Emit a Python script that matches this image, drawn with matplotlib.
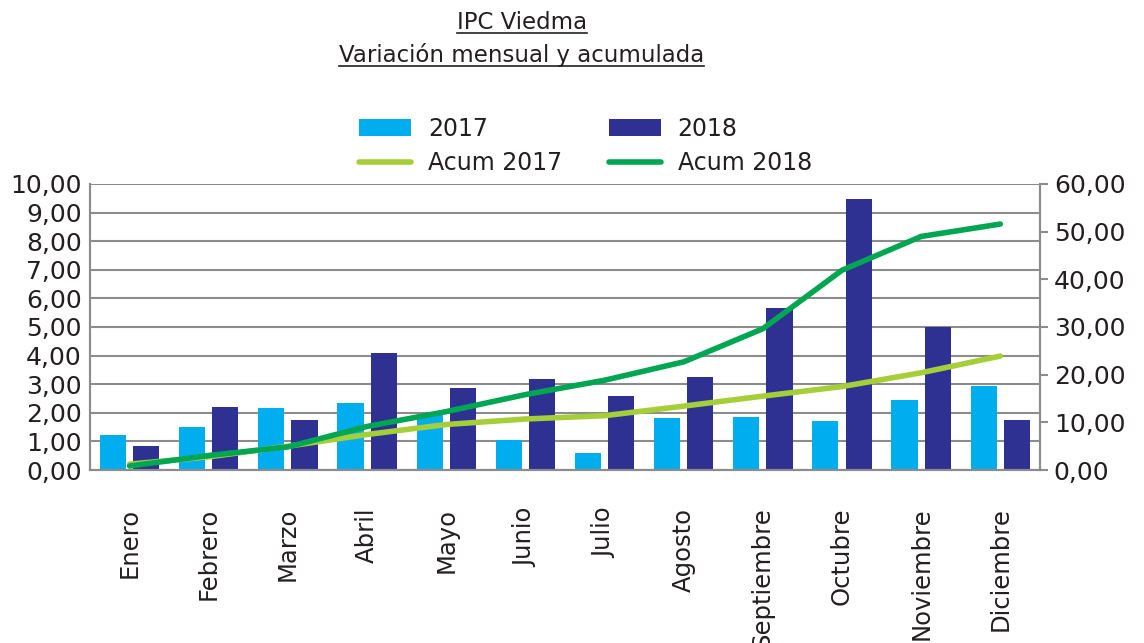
#IPC Viedma - variacion mensual y acumulada
import matplotlib
matplotlib.use("Agg")
import matplotlib.pyplot as plt
import numpy as np
from matplotlib.lines import Line2D
from matplotlib.ticker import FuncFormatter

#Datos

meses = ["Enero", "Febrero", "Marzo", "Abril", "Mayo", "Junio", "Julio",
         "Agosto", "Septiembre", "Octubre", "Noviembre", "Diciembre"]
var_2017 = [1.23, 1.52, 2.16, 2.34, 1.95, 1.05, 0.61, 1.81, 1.86, 1.70, 2.46, 2.94]
var_2018 = [0.84, 2.19, 1.75, 4.09, 2.85, 3.18, 2.60, 3.24, 5.67, 9.47, 4.99, 1.75]
acum_2017 = [1.23, 2.77, 4.99, 7.45, 9.55, 10.7, 11.4, 13.4, 15.5, 17.5, 20.4, 23.9]
acum_2018 = [0.84, 3.05, 4.85, 9.14, 12.25, 15.82, 18.83, 22.68, 29.63, 41.9, 48.98, 51.58]

c17 = "#00AEEF"
c18 = "#2E3192"
ca17 = "#A6CE39"
ca18 = "#00A651"
gris = "#8C8C8C"
negro = "#231F20"

plt.rcParams['font.family'] = ['DejaVu Sans']

fig = plt.figure(figsize=(11.44, 6.43), dpi=100)
ax = fig.add_axes([0.0787, 0.269, 0.8303, 0.445])
ax2 = ax.twinx()

x = np.arange(len(meses))
w = 0.33
ax.bar(x - 0.21, var_2017, w, color=c17, label="2017", zorder=2)
ax.bar(x + 0.21, var_2018, w, color=c18, label="2018", zorder=2)

ax2.plot(x, acum_2017, color=ca17, lw=4, solid_capstyle='round', label="Acum 2017")
ax2.plot(x, acum_2018, color=ca18, lw=4, solid_capstyle='round', label="Acum 2018")

#Ejes

coma = FuncFormatter(lambda v, p: ("%.2f" % v).replace(".", ","))
ax.set_xlim(-0.5, len(meses) - 0.5)
ax.set_ylim(0, 10)
ax.set_yticks(np.arange(0, 11, 1))
ax.yaxis.set_major_formatter(coma)
ax2.set_ylim(0, 60)
ax2.set_yticks(np.arange(0, 61, 10))
ax2.yaxis.set_major_formatter(coma)

ax.grid(axis='y', color=gris, lw=1.5, zorder=0)
ax.set_axisbelow(True)
ax.set_xticks(x)
ax.set_xticklabels(meses, rotation=90, fontsize=17.5, color=negro)
ax.tick_params(axis='x', length=0, pad=27)
ax.tick_params(axis='y', length=0, labelsize=18, colors=negro, pad=6)
ax2.tick_params(axis='y', length=6, width=1.5, color=gris, labelsize=18,
                labelcolor=negro, pad=4)

for a in (ax, ax2):
    for s in a.spines.values():
        s.set_color(gris)
        s.set_linewidth(1.5)
    a.spines['top'].set_visible(False)

#Leyenda

h1, l1 = ax.get_legend_handles_labels()
h2, l2 = ax2.get_legend_handles_labels()
fig.legend([h1[0], h2[0], h1[1], h2[1]], [l1[0], l2[0], l1[1], l2[1]],
           ncol=2, loc='center', bbox_to_anchor=(0.512, 0.773), frameon=False,
           fontsize=17, handlelength=2.2, handleheight=0.7, columnspacing=2.0,
           labelspacing=0.45, handletextpad=0.7, labelcolor=negro)

#Titulo subrayado

t1 = fig.text(0.456, 0.965, "IPC Viedma", ha='center', va='center', fontsize=16.5, color=negro)
t2 = fig.text(0.456, 0.914, "Variación mensual y acumulada", ha='center', va='center',
              fontsize=16.5, color=negro)
r = fig.canvas.get_renderer()
for t in (t1, t2):
    bb = t.get_window_extent(renderer=r).transformed(fig.transFigure.inverted())
    fig.add_artist(Line2D([bb.x0, bb.x1], [bb.y0 + 0.002, bb.y0 + 0.002],
                          transform=fig.transFigure, color=negro, lw=1.2))

fig.savefig("out.png", dpi=100)
